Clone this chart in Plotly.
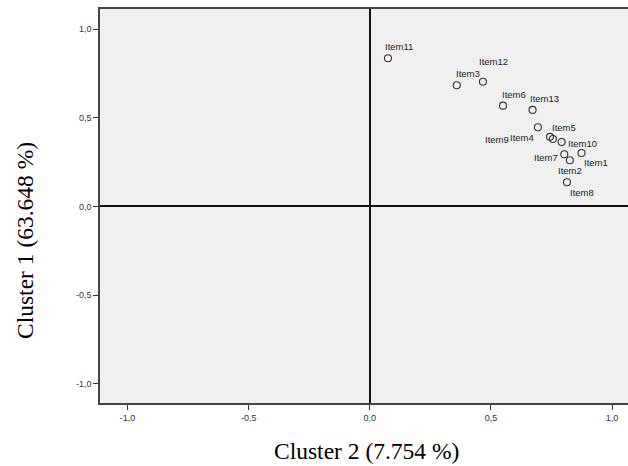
import plotly.graph_objects as go

# ---- data ----
items = ["Item11", "Item12", "Item3", "Item6", "Item13", "Item4", "Item9",
         "Item5", "Item10", "Item1", "Item7", "Item2", "Item8"]
cluster2 = [0.075, 0.467, 0.359, 0.550, 0.672, 0.694, 0.744,
            0.756, 0.792, 0.874, 0.803, 0.826, 0.814]
cluster1 = [0.835, 0.703, 0.683, 0.568, 0.544, 0.446, 0.392,
            0.380, 0.363, 0.301, 0.294, 0.260, 0.136]
tick_vals = [-1.0, -0.5, 0.0, 0.5, 1.0]
tick_text = ["-1,0", "-0,5", "0,0", "0,5", "1,0"]
x_title = "Cluster 2 (7.754 %)"
y_title = "Cluster 1 (63.648 %)"

# ---- label placement (pixel offsets, styling only) ----
label_offsets = {
    "Item11": (10.7, 11.6), "Item12": (10.7, 20.7), "Item3": (11.3, 11.3),
    "Item6": (11.0, 11.4), "Item13": (12.0, 11.3), "Item4": (-16.0, -10.0),
    "Item9": (-53.3, -3.0), "Item5": (11.5, 11.0), "Item10": (20.7, -1.7),
    "Item1": (14.7, -10.0), "Item7": (-18.0, -3.4), "Item2": (0.0, -10.0),
    "Item8": (15.5, -10.7),
}

W, H = 628, 466
ml, mr, mt, mb = 100, 0, 9, 63
pw, ph = W - ml - mr, H - mt - mb

fig = go.Figure()
fig.add_trace(go.Scatter(
    x=cluster2, y=cluster1, mode="markers",
    marker=dict(symbol="circle-open", size=7, color="#333333",
                line=dict(width=1.1, color="#333333")),
    hoverinfo="text", text=items, showlegend=False,
))

annotations = []
for name, xv, yv in zip(items, cluster2, cluster1):
    dx, dy = label_offsets[name]
    annotations.append(dict(
        x=xv, y=yv, xref="x", yref="y", text=name, showarrow=False,
        xshift=dx, yshift=dy, xanchor="center", yanchor="middle",
        font=dict(family="Liberation Sans, Arial", size=9.5, color="#222222"),
    ))

annotations.append(dict(
    x=(366 - ml) / pw, y=(H - mb - 451) / ph, xref="paper", yref="paper",
    text=x_title, showarrow=False, xanchor="center", yanchor="middle",
    font=dict(family="Liberation Serif, Times New Roman", size=23.5, color="#000000"),
))
annotations.append(dict(
    x=(25 - ml) / pw, y=(H - mb - 241) / ph, xref="paper", yref="paper",
    text=y_title, showarrow=False, textangle=-90,
    xanchor="center", yanchor="middle",
    font=dict(family="Liberation Serif, Times New Roman", size=23.5, color="#000000"),
))

axis_common = dict(
    tickvals=tick_vals, ticktext=tick_text, ticks="outside", ticklen=5,
    tickwidth=1, tickcolor="#333333",
    tickfont=dict(family="Liberation Sans, Arial", size=9, color="#333333"),
    showgrid=False, zeroline=True, zerolinecolor="#111111", zerolinewidth=1.5,
    showline=True, linecolor="#444444", linewidth=1.5,
)

fig.update_layout(
    width=W, height=H,
    margin=dict(l=ml, r=mr, t=mt, b=mb),
    paper_bgcolor="#ffffff", plot_bgcolor="#f0f0f0",
    xaxis=dict(range=[-1.114, 1.066], mirror=True, **axis_common),
    yaxis=dict(range=[-1.109, 1.113], mirror=False, **axis_common),
    annotations=annotations,
)

fig.write_html("out.html")
